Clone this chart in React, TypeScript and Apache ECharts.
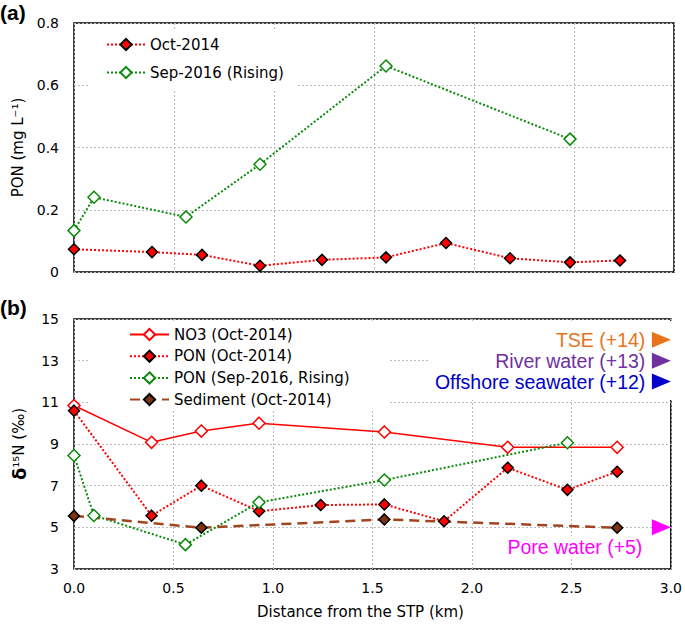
import React, { useEffect, useRef } from 'react';
import * as echarts from 'echarts';

// ---- data ----
const octStations = [0, 0.39, 0.64, 0.93, 1.24, 1.56, 1.86, 2.18, 2.48, 2.73];
const sepStations = [0, 0.10, 0.56, 0.93, 1.56, 2.48];
const no3Stations = [0, 0.39, 0.64, 0.93, 1.56, 2.18, 2.73];
const sedStations = [0, 0.64, 1.56, 2.73];

const ponConcOct = [0.073, 0.064, 0.055, 0.02, 0.039, 0.047, 0.093, 0.044, 0.031, 0.037];
const ponConcSep = [0.133, 0.24, 0.177, 0.346, 0.662, 0.427];

const no3D15N = [10.85, 9.08, 9.62, 10.0, 9.58, 8.84, 8.84];
const ponD15NOct = [10.6, 5.56, 7.0, 5.77, 6.07, 6.1, 5.29, 7.86, 6.8, 7.67];
const ponD15NSep = [8.45, 5.57, 4.17, 6.2, 7.27, 9.06];
const sedD15N = [5.55, 4.98, 5.38, 4.98];

const endMembers = ['TSE (+14)', 'River water (+13)', 'Offshore seawater (+12)', 'Pore water (+5)'];
const endMemberValues = [14, 13, 12, 5];
const endMemberX = 3.0;
const endMemberColors = ['#E8731A', '#7030A0', '#0000C8', '#FF00FF'];

const topLegend = ['Oct-2014', 'Sep-2016 (Rising)'];
const bottomLegend = ['NO3 (Oct-2014)', 'PON (Oct-2014)', 'PON (Sep-2016, Rising)', 'Sediment (Oct-2014)'];

const zip = (xs: number[], ys: number[]) => xs.map((x, i) => [x, ys[i]]);

const RED = '#FF0000';
const GREEN = '#0A8A0A';
const BROWN_LINE = '#A0461E';
const BROWN_FILL = '#7B3611';
const FONT = 'DejaVu Sans';

const splitLine = { show: true, lineStyle: { color: '#bbbbbb', width: 1, type: [2, 2] as any } };
const axisLabel = { fontFamily: FONT, fontSize: 14, color: '#000' };

const filledRed = {
  symbol: 'diamond',
  symbolSize: 11,
  itemStyle: { color: RED, borderColor: '#000', borderWidth: 1.5 },
  lineStyle: { color: RED, width: 2, type: [2, 2] as any },
};
const openGreen = {
  symbol: 'diamond',
  symbolSize: 12,
  itemStyle: { color: '#fff', borderColor: GREEN, borderWidth: 1.5 },
  lineStyle: { color: GREEN, width: 2, type: [2, 2] as any },
};

export default function App() {
  const ref = useRef<HTMLDivElement>(null);
  useEffect(() => {
    const chart = echarts.init(ref.current!, null, { renderer: 'svg' });
    const option: any = {
      animation: false,
      textStyle: { fontFamily: FONT },
      grid: [
        { left: 74, top: 23, width: 600, height: 249, show: true, borderColor: '#000', borderWidth: 1.5, backgroundColor: 'transparent' },
        { left: 74, top: 319, width: 600, height: 250, show: true, borderColor: '#000', borderWidth: 1.5, backgroundColor: 'transparent' },
      ],
      xAxis: [
        {
          gridIndex: 0, type: 'value', min: 0, max: 3, interval: 0.5,
          axisLine: { show: false }, axisTick: { show: false }, axisLabel: { show: false },
          splitLine,
        },
        {
          gridIndex: 1, type: 'value', min: 0, max: 3, interval: 0.5,
          axisLine: { show: false }, axisTick: { show: false },
          axisLabel: { ...axisLabel, margin: 12, formatter: (v: number) => v.toFixed(1) },
          splitLine,
          name: 'Distance from the STP (km)', nameLocation: 'middle', nameGap: 35,
          nameTextStyle: { fontFamily: FONT, fontSize: 15, color: '#000', padding: [0, 24, 0, 0] },
        },
      ],
      yAxis: [
        {
          gridIndex: 0, type: 'value', min: 0, max: 0.8, interval: 0.2,
          axisLine: { show: false }, axisTick: { show: false },
          axisLabel: { ...axisLabel, margin: 15, formatter: (v: number) => (v === 0 ? '0' : v.toFixed(1)) },
          splitLine,
          name: 'PON (mg L⁻¹)', nameLocation: 'middle', nameGap: 48,
          nameTextStyle: { fontFamily: FONT, fontSize: 15, color: '#000' },
        },
        {
          gridIndex: 1, type: 'value', min: 3, max: 15, interval: 2,
          axisLine: { show: false }, axisTick: { show: false },
          axisLabel: { ...axisLabel, margin: 15 },
          splitLine,
          name: '{d|δ}¹⁵N (‰)', nameLocation: 'middle', nameGap: 46,
          nameTextStyle: {
            fontFamily: FONT, fontSize: 15, color: '#000',
            rich: { d: { fontFamily: FONT, fontSize: 18, fontWeight: 'bold', color: '#000' } },
          },
        },
      ],
      legend: [
        {
          data: topLegend, orient: 'vertical', left: 90, top: 29,
          padding: [8, 12, 10, 16], itemWidth: 38, itemHeight: 14, itemGap: 13,
          backgroundColor: '#fff', selectedMode: false,
          textStyle: { fontFamily: FONT, fontSize: 15, color: '#000' },
        },
        {
          data: bottomLegend, orient: 'vertical', left: 90, top: 322,
          padding: [5, 39, 4, 39], itemWidth: 39, itemHeight: 14, itemGap: 6.7,
          backgroundColor: '#fff', selectedMode: false,
          textStyle: { fontFamily: FONT, fontSize: 15, color: '#000' },
        },
      ],
      graphic: [
        { type: 'rect', z: 1, shape: { x: 428, y: 321, width: 244, height: 79 }, style: { fill: '#fff' } },
        { type: 'text', x: 0, y: 2, style: { text: '(a)', fontSize: 21, fontWeight: 'bold', fontFamily: 'Liberation Sans', fill: '#000', verticalAlign: 'top' } },
        { type: 'text', x: 0, y: 297, style: { text: '(b)', fontSize: 21, fontWeight: 'bold', fontFamily: 'Liberation Sans', fill: '#000', verticalAlign: 'top' } },
      ],
      series: [
        { name: 'Oct-2014', type: 'line', xAxisIndex: 0, yAxisIndex: 0, data: zip(octStations, ponConcOct), ...filledRed },
        { name: 'Sep-2016 (Rising)', type: 'line', xAxisIndex: 0, yAxisIndex: 0, data: zip(sepStations, ponConcSep), ...openGreen },
        {
          name: 'NO3 (Oct-2014)', type: 'line', xAxisIndex: 1, yAxisIndex: 1, data: zip(no3Stations, no3D15N),
          symbol: 'diamond', symbolSize: 12,
          itemStyle: { color: '#fff', borderColor: RED, borderWidth: 1.5 },
          lineStyle: { color: RED, width: 1.5, type: 'solid' },
        },
        { name: 'PON (Oct-2014)', type: 'line', xAxisIndex: 1, yAxisIndex: 1, data: zip(octStations, ponD15NOct), ...filledRed },
        { name: 'PON (Sep-2016, Rising)', type: 'line', xAxisIndex: 1, yAxisIndex: 1, data: zip(sepStations, ponD15NSep), ...openGreen },
        {
          name: 'Sediment (Oct-2014)', type: 'line', xAxisIndex: 1, yAxisIndex: 1, data: zip(sedStations, sedD15N),
          symbol: 'diamond', symbolSize: 11,
          itemStyle: { color: BROWN_FILL, borderColor: '#000', borderWidth: 1.5 },
          lineStyle: { color: BROWN_LINE, width: 2.5, type: [10, 6] },
        },
        {
          name: 'end members', type: 'scatter', xAxisIndex: 1, yAxisIndex: 1, z: 3,
          symbol: 'triangle', symbolSize: [16, 19], symbolRotate: -90, symbolOffset: [-9.5, 0],
          itemStyle: { opacity: 1 },
          data: endMemberValues.map((v, i) => ({ name: endMembers[i], value: [endMemberX, v], itemStyle: { color: endMemberColors[i], opacity: 1 } })),
        },
        {
          name: 'end member labels', type: 'scatter', xAxisIndex: 1, yAxisIndex: 1, z: 3,
          symbol: 'circle', symbolSize: 1, itemStyle: { color: 'rgba(0,0,0,0)', opacity: 1 },
          data: endMemberValues.map((v, i) => ({
            name: endMembers[i], value: [endMemberX, v],
            label: {
              show: true, position: 'left', distance: 25, formatter: '{b}', opacity: 1,
              fontFamily: 'Liberation Sans', fontSize: 19.5, color: endMemberColors[i],
              offset: i === 3 ? [0, 20] : [0, 0],
              backgroundColor: i === 3 ? '#fff' : 'transparent', padding: i === 3 ? [1, 3] : 0,
            },
          })),
        },
      ],
    };
    chart.setOption(option);
    return () => chart.dispose();
  }, []);
  return <div ref={ref} style={{ position: 'absolute', left: 0, top: 0, width: 685, height: 630 }} />;
}
